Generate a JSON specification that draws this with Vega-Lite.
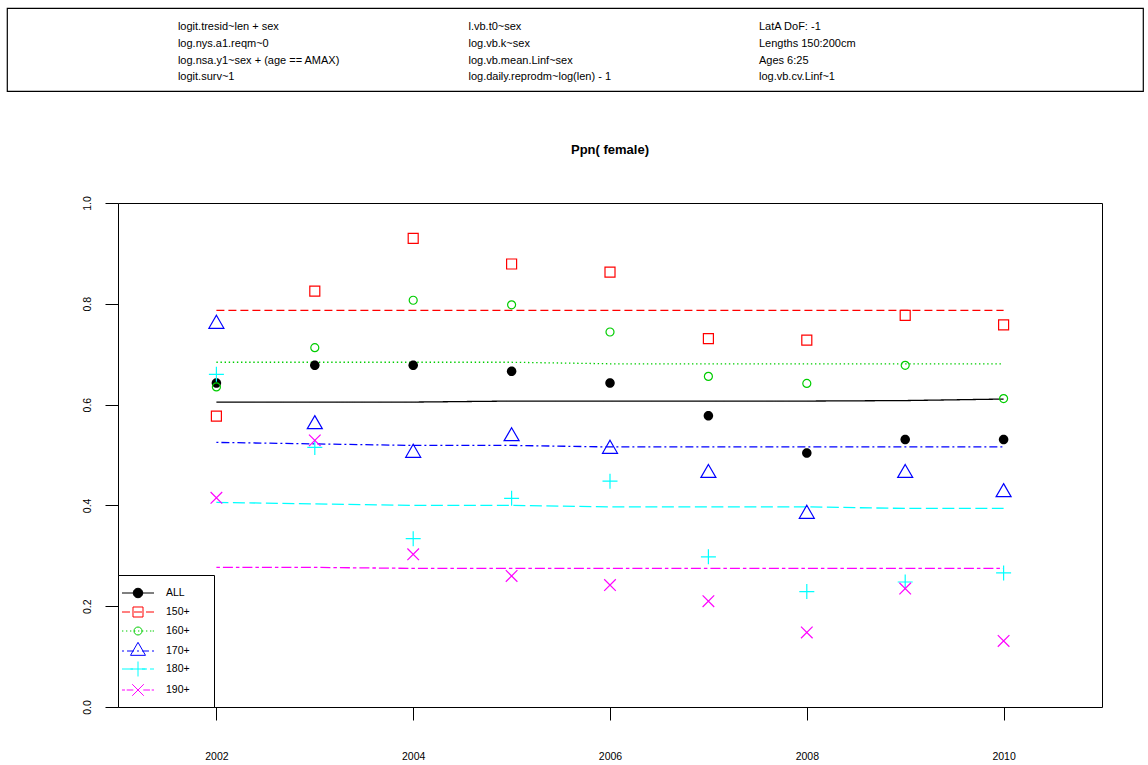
{
  "$schema": "https://vega.github.io/schema/vega-lite/v6.json",
  "autosize": {"type": "pad"},
  "padding": {"left": 6, "top": 7, "right": 0, "bottom": 0},
  "background": "white",
  "config": {
    "font": "Liberation Sans",
    "axis": {"labelColor": "black", "tickColor": "black", "labelFont": "Liberation Sans"},
    "legend": {"labelFont": "Liberation Sans"}
  },
  "datasets": {
    "header": [
      {"col": 1, "row": 1, "t": "logit.tresid~len + sex"},
      {"col": 1, "row": 2, "t": "log.nys.a1.reqm~0"},
      {"col": 1, "row": 3, "t": "log.nsa.y1~sex + (age == AMAX)"},
      {"col": 1, "row": 4, "t": "logit.surv~1"},
      {"col": 2, "row": 1, "t": "l.vb.t0~sex"},
      {"col": 2, "row": 2, "t": "log.vb.k~sex"},
      {"col": 2, "row": 3, "t": "log.vb.mean.Linf~sex"},
      {"col": 2, "row": 4, "t": "log.daily.reprodm~log(len) - 1"},
      {"col": 3, "row": 1, "t": "LatA DoF: -1"},
      {"col": 3, "row": 2, "t": "Lengths 150:200cm"},
      {"col": 3, "row": 3, "t": "Ages 6:25"},
      {"col": 3, "row": 4, "t": "log.vb.cv.Linf~1"}
    ],
    "pts": [
      {"s": "ALL", "year": 2002, "obs": 0.643, "fit": 0.605},
      {"s": "ALL", "year": 2003, "obs": 0.678, "fit": 0.605},
      {"s": "ALL", "year": 2004, "obs": 0.678, "fit": 0.605},
      {"s": "ALL", "year": 2005, "obs": 0.666, "fit": 0.607},
      {"s": "ALL", "year": 2006, "obs": 0.643, "fit": 0.607},
      {"s": "ALL", "year": 2007, "obs": 0.578, "fit": 0.607},
      {"s": "ALL", "year": 2008, "obs": 0.504, "fit": 0.607},
      {"s": "ALL", "year": 2009, "obs": 0.531, "fit": 0.608},
      {"s": "ALL", "year": 2010, "obs": 0.531, "fit": 0.611},
      {"s": "150+", "year": 2002, "obs": 0.577, "fit": 0.787},
      {"s": "150+", "year": 2003, "obs": 0.825, "fit": 0.787},
      {"s": "150+", "year": 2004, "obs": 0.930, "fit": 0.787},
      {"s": "150+", "year": 2005, "obs": 0.879, "fit": 0.787},
      {"s": "150+", "year": 2006, "obs": 0.863, "fit": 0.787},
      {"s": "150+", "year": 2007, "obs": 0.731, "fit": 0.787},
      {"s": "150+", "year": 2008, "obs": 0.728, "fit": 0.787},
      {"s": "150+", "year": 2009, "obs": 0.777, "fit": 0.787},
      {"s": "150+", "year": 2010, "obs": 0.758, "fit": 0.787},
      {"s": "160+", "year": 2002, "obs": 0.635, "fit": 0.684},
      {"s": "160+", "year": 2003, "obs": 0.713, "fit": 0.684},
      {"s": "160+", "year": 2004, "obs": 0.807, "fit": 0.684},
      {"s": "160+", "year": 2005, "obs": 0.798, "fit": 0.684},
      {"s": "160+", "year": 2006, "obs": 0.744, "fit": 0.681},
      {"s": "160+", "year": 2007, "obs": 0.656, "fit": 0.681},
      {"s": "160+", "year": 2008, "obs": 0.642, "fit": 0.681},
      {"s": "160+", "year": 2009, "obs": 0.678, "fit": 0.681},
      {"s": "160+", "year": 2010, "obs": 0.612, "fit": 0.681},
      {"s": "170+", "year": 2002, "obs": 0.760, "fit": 0.525},
      {"s": "170+", "year": 2003, "obs": 0.561, "fit": 0.522},
      {"s": "170+", "year": 2004, "obs": 0.504, "fit": 0.519},
      {"s": "170+", "year": 2005, "obs": 0.537, "fit": 0.519},
      {"s": "170+", "year": 2006, "obs": 0.512, "fit": 0.516},
      {"s": "170+", "year": 2007, "obs": 0.464, "fit": 0.516},
      {"s": "170+", "year": 2008, "obs": 0.383, "fit": 0.516},
      {"s": "170+", "year": 2009, "obs": 0.464, "fit": 0.516},
      {"s": "170+", "year": 2010, "obs": 0.426, "fit": 0.516},
      {"s": "180+", "year": 2002, "obs": 0.660, "fit": 0.406},
      {"s": "180+", "year": 2003, "obs": 0.515, "fit": 0.403},
      {"s": "180+", "year": 2004, "obs": 0.334, "fit": 0.400},
      {"s": "180+", "year": 2005, "obs": 0.414, "fit": 0.400},
      {"s": "180+", "year": 2006, "obs": 0.448, "fit": 0.397},
      {"s": "180+", "year": 2007, "obs": 0.298, "fit": 0.397},
      {"s": "180+", "year": 2008, "obs": 0.229, "fit": 0.397},
      {"s": "180+", "year": 2009, "obs": 0.248, "fit": 0.394},
      {"s": "180+", "year": 2010, "obs": 0.266, "fit": 0.394},
      {"s": "190+", "year": 2002, "obs": 0.415, "fit": 0.277},
      {"s": "190+", "year": 2003, "obs": 0.529, "fit": 0.277},
      {"s": "190+", "year": 2004, "obs": 0.303, "fit": 0.275},
      {"s": "190+", "year": 2005, "obs": 0.260, "fit": 0.275},
      {"s": "190+", "year": 2006, "obs": 0.242, "fit": 0.275},
      {"s": "190+", "year": 2007, "obs": 0.210, "fit": 0.275},
      {"s": "190+", "year": 2008, "obs": 0.148, "fit": 0.275},
      {"s": "190+", "year": 2009, "obs": 0.235, "fit": 0.275},
      {"s": "190+", "year": 2010, "obs": 0.131, "fit": 0.275}
    ]
  },
  "spacing": 51,
  "vconcat": [
    {
      "data": {"name": "header"},
      "width": 1136,
      "height": 83,
      "view": {"stroke": "black", "strokeWidth": 1.2, "fill": "white"},
      "mark": {"type": "text", "align": "left", "baseline": "middle", "fontSize": 11, "font": "Liberation Sans", "color": "black"},
      "encoding": {
        "x": {"field": "col", "type": "ordinal", "scale": {"type": "point", "padding": 0.955, "align": 0.308}, "axis": null},
        "y": {"field": "row", "type": "ordinal", "scale": {"type": "point", "padding": 1.346, "align": 0.585}, "axis": null},
        "text": {"field": "t"}
      }
    },
    {
      "spacing": 73,
      "hconcat": [
        {
          "data": {"values": []},
          "width": 1,
          "height": 1,
          "view": {"stroke": null},
          "mark": "point"
        },
        {
          "data": {"name": "pts"},
          "width": 984,
          "height": 504,
          "view": {"stroke": "black", "strokeWidth": 1},
          "title": {"text": "Ppn( female)", "fontSize": 13, "fontWeight": "bold", "font": "Liberation Sans", "color": "black", "frame": "group", "anchor": "middle", "offset": 29, "baseline": "alphabetic"},
          "resolve": {
            "scale": {"shape": "independent", "fill": "independent"},
            "legend": {"color": "independent", "shape": "independent", "fill": "independent"}
          },
          "encoding": {
            "x": {
              "field": "year", "type": "quantitative",
              "scale": {"domain": [2001, 2011], "nice": false, "zero": false},
              "axis": {"values": [2002, 2004, 2006, 2008, 2010], "format": "d", "title": null, "grid": false, "domain": false, "tickSize": 13, "tickWidth": 1, "labelFontSize": 10.5, "labelPadding": 31, "labelBaseline": "top", "labelFlush": false, "labelOverlap": false}
            }
          },
          "layer": [
            {
              "mark": {"type": "line", "strokeWidth": 1.3},
              "encoding": {
                "y": {
                  "field": "fit", "type": "quantitative",
                  "scale": {"domain": [0, 1], "nice": false},
                  "axis": {"values": [0, 0.2, 0.4, 0.6, 0.8, 1.0], "format": ".1f", "title": null, "grid": false, "domain": false, "tickSize": 13, "tickWidth": 1, "labelFontSize": 10.5, "labelAngle": -90, "labelAlign": "center", "labelBaseline": "alphabetic", "labelPadding": 15, "labelFlush": false, "labelOverlap": false}
                },
                "color": {"field": "s", "type": "nominal", "scale": {"domain": ["ALL", "150+", "160+", "170+", "180+", "190+"], "range": ["black", "#FF0000", "#00CD00", "#0000FF", "#00FFFF", "#FF00FF"]}, "legend": null},
                "strokeDash": {"field": "s", "type": "nominal", "scale": {"domain": ["ALL", "150+", "160+", "170+", "180+", "190+"], "range": [[1, 0], [8, 4], [1.4, 2.7], [2, 3, 8, 3], [12, 4.5], [3.5, 3, 10, 3]]}, "legend": null}
              }
            },
            {
              "transform": [{"filter": "datum.s === 'ALL'"}],
              "mark": {"type": "point", "filled": true, "opacity": 1, "strokeWidth": 1.2, "size": 100, "color": "black", "shape": "M0.95,0C0.95,0.525 0.525,0.95 0,0.95C-0.525,0.95 -0.95,0.525 -0.95,0C-0.95,-0.525 -0.525,-0.95 0,-0.95C0.525,-0.95 0.95,-0.525 0.95,0Z"},
              "encoding": {
                "y": {"field": "obs", "type": "quantitative", "scale": {"domain": [0, 1], "nice": false}}
              }
            },
            {
              "transform": [{"filter": "datum.s !== 'ALL'"}],
              "mark": {"type": "point", "filled": false, "opacity": 1, "strokeWidth": 1.2, "size": 100},
              "encoding": {
                "y": {"field": "obs", "type": "quantitative", "scale": {"domain": [0, 1], "nice": false}},
                "shape": {"field": "s", "type": "nominal", "legend": null, "scale": {"domain": ["ALL", "150+", "160+", "170+", "180+", "190+"], "range": [
                  "M0.95,0C0.95,0.525 0.525,0.95 0,0.95C-0.525,0.95 -0.95,0.525 -0.95,0C-0.95,-0.525 -0.525,-0.95 0,-0.95C0.525,-0.95 0.95,-0.525 0.95,0Z",
                  "M-1,-1L1,-1L1,1L-1,1Z",
                  "M0.8,0C0.8,0.442 0.442,0.8 0,0.8C-0.442,0.8 -0.8,0.442 -0.8,0C-0.8,-0.442 -0.442,-0.8 0,-0.8C0.442,-0.8 0.8,-0.442 0.8,0Z",
                  "M0,-1.732L1.5,0.866L-1.5,0.866Z",
                  "M-1.5,0L1.5,0M0,-1.5L0,1.5",
                  "M-1.16,-1.16L1.16,1.16M-1.16,1.16L1.16,-1.16"
                ]}},
                "color": {"field": "s", "type": "nominal", "scale": {"domain": ["ALL", "150+", "160+", "170+", "180+", "190+"], "range": ["black", "#FF0000", "#00CD00", "#0000FF", "#00FFFF", "#FF00FF"]}, "legend": null}
              }
            },
            {
              "transform": [{"filter": "false"}],
              "mark": {"type": "point", "filled": false, "opacity": 1, "strokeWidth": 1, "size": 324},
              "encoding": {
                "y": {"field": "obs", "type": "quantitative", "scale": {"domain": [0, 1], "nice": false}},
                "color": {"field": "s", "type": "nominal", "scale": {"domain": ["ALL", "150+", "160+", "170+", "180+", "190+"], "range": ["black", "#FF0000", "#00CD00", "#0000FF", "#00FFFF", "#FF00FF"]},
                  "legend": {"title": "\u00a0", "titleOrient": "right", "titlePadding": 16, "titleFontSize": 1, "orient": "bottom-left", "offset": 0, "padding": 8.5, "strokeColor": "black", "fillColor": "white", "cornerRadius": 0, "symbolSize": 324, "symbolStrokeWidth": 1, "symbolOffset": 2, "labelOffset": 18.5, "rowPadding": 2, "labelFontSize": 10.5, "labelColor": "black"}},
                "fill": {"field": "s", "type": "nominal", "scale": {"domain": ["ALL", "150+", "160+", "170+", "180+", "190+"], "range": ["black", "transparent", "transparent", "transparent", "transparent", "transparent"]},
                  "legend": {"title": "\u00a0", "titleOrient": "right", "titlePadding": 16, "titleFontSize": 1, "orient": "bottom-left", "offset": 0, "padding": 8.5, "strokeColor": "black", "fillColor": "white", "cornerRadius": 0, "symbolSize": 324, "symbolStrokeWidth": 1, "symbolOffset": 2, "labelOffset": 18.5, "rowPadding": 2, "labelFontSize": 10.5, "labelColor": "black"}},
                "shape": {"field": "s", "type": "nominal",
                  "scale": {"domain": ["ALL", "150+", "160+", "170+", "180+", "190+"], "range": [
                    "M-1.778,0L1.778,0M0.528,0C0.528,0.292 0.292,0.528 0,0.528C-0.292,0.528 -0.528,0.292 -0.528,0C-0.528,-0.292 -0.292,-0.528 0,-0.528C0.292,-0.528 0.528,-0.292 0.528,0Z",
                    "M-1.778,0L-0.889,0M-0.444,0L0.444,0M0.889,0L1.778,0M-0.556,-0.556L0.556,-0.556L0.556,0.556L-0.556,0.556Z",
                    "M-1.778,0L-1.63,0M-1.333,0L-1.185,0M-0.889,0L-0.741,0M-0.444,0L-0.296,0M0,0L0.148,0M0.444,0L0.593,0M0.889,0L1.037,0M1.333,0L1.481,0M1.63,0L1.778,0M0.444,0C0.444,0.245 0.245,0.444 0,0.444C-0.245,0.444 -0.444,0.245 -0.444,0C-0.444,-0.245 -0.245,-0.444 0,-0.444C0.245,-0.444 0.444,-0.245 0.444,0Z",
                    "M-1.778,0L-1.556,0M-1.222,0L-0.444,0M-0.111,0L0.111,0M0.444,0L1.222,0M1.556,0L1.778,0M0,-0.962L0.833,0.481L-0.833,0.481Z",
                    "M-1.778,0L-0.556,0M0.444,0L1,0M1.333,0L1.778,0M-0.833,0L0.833,0M0,-0.833L0,0.833",
                    "M-1.778,0L-1.444,0M-1.256,0L-0.522,0M0.589,0L1.333,0M1.522,0L1.778,0M-0.644,-0.644L0.644,0.644M-0.644,0.644L0.644,-0.644"
                  ]},
                  "legend": {"title": "\u00a0", "titleOrient": "right", "titlePadding": 16, "titleFontSize": 1, "orient": "bottom-left", "offset": 0, "padding": 8.5, "strokeColor": "black", "fillColor": "white", "cornerRadius": 0, "symbolSize": 324, "symbolStrokeWidth": 1, "symbolOffset": 2, "labelOffset": 18.5, "rowPadding": 2, "labelFontSize": 10.5, "labelColor": "black"}}
              }
            }
          ]
        }
      ]
    }
  ]
}
